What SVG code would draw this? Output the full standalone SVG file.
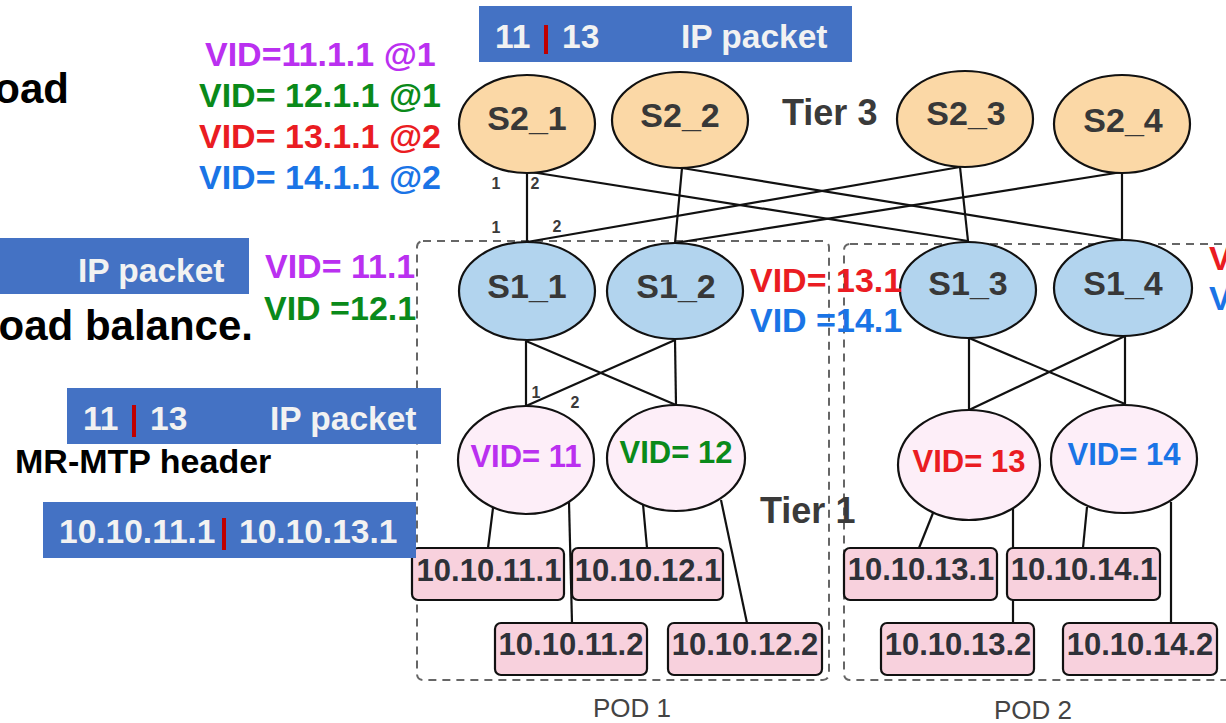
<svg xmlns="http://www.w3.org/2000/svg" width="1226" height="723" viewBox="0 0 1226 723">
  <style>
    text { font-family: "Liberation Sans", Arial, sans-serif; font-weight: bold; }
    .pod { fill: none; stroke: #666; stroke-width: 2; stroke-dasharray: 8 6; }
    .link { stroke: #111; stroke-width: 2.2; fill: none; }
    .t3 { fill: #FBD8A6; stroke: #111; stroke-width: 2.2; }
    .t2 { fill: #B2D4EE; stroke: #111; stroke-width: 2.2; }
    .t1 { fill: #FDEEF8; stroke: #111; stroke-width: 2.2; }
    .host { fill: #F8D1DD; stroke: #111; stroke-width: 2.2; }
    .sw { font-size: 34px; fill: #383838; text-anchor: middle; }
    .hostt { font-size: 31px; fill: #2E3138; text-anchor: middle; }
    .vid { font-size: 31px; text-anchor: middle; }
    .ann { font-size: 34px; }
    .port { font-size: 16px; fill: #3a3a3a; text-anchor: middle; }
    .banner { fill: #4472C4; }
    .bt { font-size: 33.5px; fill: #F2F2F2; }
    .bar { fill: #C00000; }
    .tier { font-size: 36px; fill: #3a3a3a; }
    .big { font-size: 42px; fill: #000; text-anchor: end; }
    .podl { font-size: 26px; font-weight: normal; fill: #444; text-anchor: middle; }
    .purple { fill: #BA30F0; }
    .green { fill: #0A8A1A; }
    .red { fill: #EA1C22; }
    .blue { fill: #1A74E6; }
  </style>

  <!-- pod outlines -->
  <g id="pods">
    <rect class="pod" x="417" y="241" width="412" height="439" rx="6"/>
    <rect class="pod" x="844" y="244" width="400" height="436" rx="6"/>
    <text class="podl" x="632" y="717">POD 1</text>
    <text class="podl" x="1033" y="719">POD 2</text>
  </g>

  <!-- links -->
  <g id="connectors">
    <!-- tier 3 to tier 2 -->
    <line class="link" x1="527" y1="173" x2="527" y2="242"/>
    <line class="link" x1="531" y1="172" x2="968" y2="241"/>
    <line class="link" x1="682" y1="168" x2="675" y2="243"/>
    <line class="link" x1="682" y1="168" x2="1122" y2="240"/>
    <line class="link" x1="960" y1="167" x2="527" y2="242"/>
    <line class="link" x1="960" y1="167" x2="968" y2="241"/>
    <line class="link" x1="1122" y1="172" x2="675" y2="243"/>
    <line class="link" x1="1122" y1="172" x2="1122" y2="240"/>
    <!-- pod 1 tier 2 to tier 1 -->
    <line class="link" x1="526" y1="341" x2="526" y2="406"/>
    <line class="link" x1="526" y1="341" x2="676" y2="405"/>
    <line class="link" x1="675" y1="340" x2="526" y2="406"/>
    <line class="link" x1="675" y1="340" x2="676" y2="405"/>
    <!-- pod 2 tier 2 to tier 1 -->
    <line class="link" x1="969" y1="338" x2="969" y2="410"/>
    <line class="link" x1="969" y1="338" x2="1125" y2="404"/>
    <line class="link" x1="1125" y1="336" x2="969" y2="410"/>
    <line class="link" x1="1125" y1="336" x2="1125" y2="404"/>
    <!-- tier 1 to hosts -->
    <line class="link" x1="493" y1="508" x2="488" y2="548"/>
    <line class="link" x1="569" y1="502" x2="572" y2="623"/>
    <line class="link" x1="643" y1="504" x2="647" y2="548"/>
    <line class="link" x1="721" y1="500" x2="747" y2="623"/>
    <line class="link" x1="933" y1="513" x2="919" y2="548"/>
    <line class="link" x1="1013" y1="508" x2="1013" y2="623"/>
    <line class="link" x1="1087" y1="507" x2="1083" y2="548"/>
    <line class="link" x1="1171" y1="502" x2="1171" y2="623"/>
  </g>

  <!-- tier 3 switches -->
  <g id="S2_1"><ellipse class="t3" cx="527" cy="124" rx="68" ry="49"/><text class="sw" x="527" y="130">S2_1</text></g>
  <g id="S2_2"><ellipse class="t3" cx="680" cy="120" rx="68" ry="48"/><text class="sw" x="680" y="127">S2_2</text></g>
  <g id="S2_3"><ellipse class="t3" cx="965" cy="119" rx="68" ry="48"/><text class="sw" x="966" y="125">S2_3</text></g>
  <g id="S2_4"><ellipse class="t3" cx="1122" cy="124" rx="68" ry="49"/><text class="sw" x="1123" y="132">S2_4</text></g>

  <!-- tier 2 switches -->
  <g id="S1_1"><ellipse class="t2" cx="527" cy="291" rx="68" ry="49"/><text class="sw" x="527" y="298">S1_1</text></g>
  <g id="S1_2"><ellipse class="t2" cx="675" cy="291" rx="68" ry="48"/><text class="sw" x="676" y="298">S1_2</text></g>
  <g id="S1_3"><ellipse class="t2" cx="968" cy="290" rx="68" ry="48"/><text class="sw" x="968" y="295">S1_3</text></g>
  <g id="S1_4"><ellipse class="t2" cx="1123" cy="288" rx="69" ry="48"/><text class="sw" x="1123" y="295">S1_4</text></g>

  <!-- tier 1 switches -->
  <g id="VID11"><ellipse class="t1" cx="526" cy="460" rx="68" ry="54"/><text class="vid purple" x="526" y="467">VID= 11</text></g>
  <g id="VID12"><ellipse class="t1" cx="676" cy="458" rx="69" ry="53"/><text class="vid green" x="676" y="463">VID= 12</text></g>
  <g id="VID13"><ellipse class="t1" cx="969" cy="465" rx="71" ry="55"/><text class="vid red" x="969" y="472">VID= 13</text></g>
  <g id="VID14"><ellipse class="t1" cx="1124" cy="459" rx="73" ry="54"/><text class="vid blue" x="1124" y="465">VID= 14</text></g>

  <!-- hosts -->
  <g id="h11_1"><rect class="host" x="412" y="548" width="152" height="52" rx="6"/><text class="hostt" x="489" y="581">10.10.11.1</text></g>
  <g id="h12_1"><rect class="host" x="572" y="548" width="151" height="52" rx="6"/><text class="hostt" x="648" y="581">10.10.12.1</text></g>
  <g id="h11_2"><rect class="host" x="495" y="623" width="152" height="52" rx="6"/><text class="hostt" x="571" y="655">10.10.11.2</text></g>
  <g id="h12_2"><rect class="host" x="668" y="623" width="154" height="52" rx="6"/><text class="hostt" x="745" y="655">10.10.12.2</text></g>
  <g id="h13_1"><rect class="host" x="844" y="548" width="153" height="52" rx="6"/><text class="hostt" x="921" y="580">10.10.13.1</text></g>
  <g id="h14_1"><rect class="host" x="1007" y="548" width="153" height="52" rx="6"/><text class="hostt" x="1084" y="580">10.10.14.1</text></g>
  <g id="h13_2"><rect class="host" x="881" y="623" width="153" height="52" rx="6"/><text class="hostt" x="958" y="655">10.10.13.2</text></g>
  <g id="h14_2"><rect class="host" x="1063" y="623" width="154" height="52" rx="6"/><text class="hostt" x="1140" y="655">10.10.14.2</text></g>

  <!-- port numbers -->
  <g id="ports">
    <text class="port" x="496" y="189">1</text>
    <text class="port" x="535" y="189">2</text>
    <text class="port" x="496" y="233">1</text>
    <text class="port" x="557" y="232">2</text>
    <text class="port" x="536" y="398">1</text>
    <text class="port" x="575" y="408">2</text>
  </g>

  <!-- tier labels -->
  <text class="tier" x="782" y="125">Tier 3</text>
  <text class="tier" x="760" y="523">Tier 1</text>

  <!-- packet headers -->
  <g id="pkt_top">
    <rect class="banner" x="479" y="6" width="373" height="56"/>
    <text class="bt" x="495" y="48">11</text>
    <rect class="bar" x="544" y="25" width="4" height="29"/>
    <text class="bt" x="562" y="48">13</text>
    <text class="bt" x="681" y="48">IP packet</text>
  </g>
  <g id="pkt_left">
    <rect class="banner" x="0" y="238" width="249" height="56"/>
    <text class="bt" x="78" y="282">IP packet</text>
  </g>
  <g id="pkt_mrmtp">
    <rect class="banner" x="67" y="388" width="374" height="56"/>
    <text class="bt" x="83" y="430">11</text>
    <rect class="bar" x="132" y="405" width="4" height="32"/>
    <text class="bt" x="150" y="430">13</text>
    <text class="bt" x="270" y="430">IP packet</text>
  </g>
  <g id="pkt_ip">
    <rect class="banner" x="43" y="502" width="373" height="56"/>
    <text class="bt" x="59" y="543">10.10.11.1</text>
    <rect class="bar" x="222" y="518" width="4" height="32"/>
    <text class="bt" x="239" y="543">10.10.13.1</text>
  </g>

  <!-- annotations -->
  <g id="notes">
    <text class="big" x="69" y="103">oad</text>
    <text class="big" x="253" y="340">oad balance.</text>
    <text class="ann" x="15" y="473" style="fill:#000">MR-MTP header</text>
    <text class="ann purple" x="205" y="66">VID=11.1.1 @1</text>
    <text class="ann green" x="199" y="107">VID= 12.1.1 @1</text>
    <text class="ann red" x="199" y="148">VID= 13.1.1 @2</text>
    <text class="ann blue" x="199" y="189">VID= 14.1.1 @2</text>
    <text class="ann purple" x="265" y="278">VID= 11.1</text>
    <text class="ann green" x="264" y="320">VID =12.1</text>
    <text class="ann red" x="750" y="292">VID= 13.1</text>
    <text class="ann blue" x="750" y="332">VID =14.1</text>
    <text class="ann red" x="1209" y="270">V</text>
    <text class="ann blue" x="1209" y="310">V</text>
  </g>
</svg>
